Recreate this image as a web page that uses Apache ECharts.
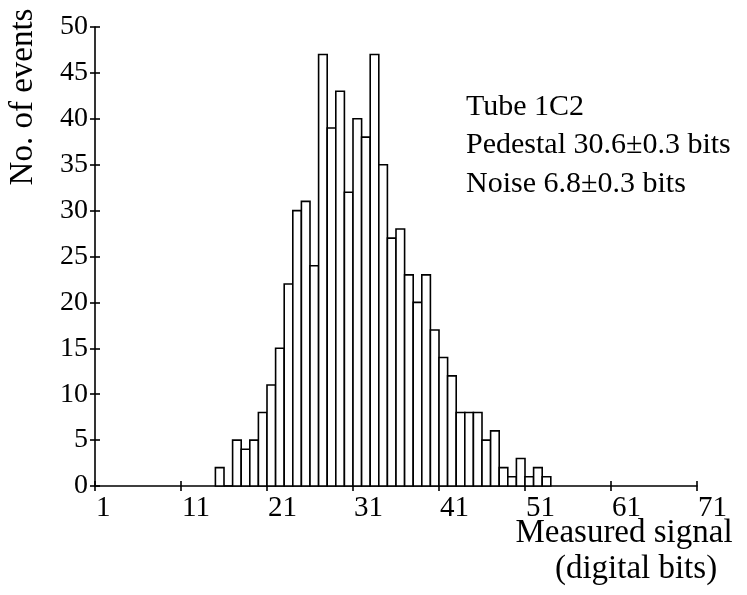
<!DOCTYPE html>
<html><head><meta charset="utf-8">
<script src="https://cdn.jsdelivr.net/npm/echarts@6/dist/echarts.min.js"></script>
<style>html,body{margin:0;padding:0;background:#fff}#c{width:747px;height:595px}</style>
</head><body><div id="c"></div>
<script>
// Histogram bins (lower edge, digital bits) and counts
const binStarts = [15,16,17,18,19,20,21,22,23,24,25,26,27,28,29,30,31,32,33,34,35,36,37,38,39,40,41,42,43,44,45,46,47,48,49,50,51,52,53];
const counts    = [ 2, 0, 5, 4, 5, 8,11,15,22,30,31,24,47,39,43,32,40,38,47,35,27,28,23,20,23,17,14,12, 8, 8, 8, 5, 6, 2, 1, 3, 1, 2, 1];
const binWidth = 1;
const xTicks = [1,11,21,31,41,51,61,71];
const yTicks = [0,5,10,15,20,25,30,35,40,45,50];
const annotations = ['Tube 1C2','Pedestal 30.6\u00b10.3 bits','Noise 6.8\u00b10.3 bits'];
const xTitle = ['Measured signal','(digital bits)'];
const yTitle = 'No. of events';

const FONT = '"Liberation Serif", "Times New Roman", serif';
const data = binStarts.map((b, i) => [b, counts[i]]);
const chart = echarts.init(document.getElementById('c'), null, {renderer: 'canvas'});
const lineStyle = {color: '#000', width: 1.6};
const xBase = {type: 'value', min: xTicks[0], max: xTicks[xTicks.length - 1], position: 'bottom', splitLine: {show: false}};
const yBase = {type: 'value', min: yTicks[0], max: yTicks[yTicks.length - 1], interval: yTicks[1] - yTicks[0], position: 'left', splitLine: {show: false}};
chart.setOption({
  animation: false,
  backgroundColor: '#fff',
  grid: {left: 95, right: 50, top: 27, bottom: 109, containLabel: false},
  xAxis: [
    Object.assign({}, xBase, {
      axisLine: {show: true, onZero: false, lineStyle},
      axisTick: {show: true, customValues: xTicks, length: 5, lineStyle},
      axisLabel: {show: true, customValues: xTicks, align: 'left', margin: 8, color: '#000', fontFamily: FONT, fontSize: 29, padding: [0,0,0,1]}
    }),
    Object.assign({}, xBase, {
      axisLine: {show: false},
      axisTick: {show: true, inside: true, customValues: xTicks, length: 5, lineStyle},
      axisLabel: {show: false}
    })
  ],
  yAxis: [
    Object.assign({}, yBase, {
      axisLine: {show: true, onZero: false, lineStyle},
      axisTick: {show: true, length: 5, lineStyle},
      axisLabel: {show: true, margin: 7, color: '#000', fontFamily: FONT, fontSize: 28}
    }),
    Object.assign({}, yBase, {
      axisLine: {show: false},
      axisTick: {show: true, inside: true, length: 5, lineStyle},
      axisLabel: {show: false}
    })
  ],
  series: [{
    type: 'custom',
    xAxisIndex: 0, yAxisIndex: 0,
    encode: {x: 0, y: 1},
    data: data,
    renderItem: function (params, api) {
      const x0 = api.value(0), c = api.value(1);
      const p0 = api.coord([x0, 0]);
      const p1 = api.coord([x0 + binWidth, c]);
      return {type: 'rect', shape: {x: p0[0], y: p1[1], width: p1[0] - p0[0], height: p0[1] - p1[1]},
        style: {fill: '#fff', stroke: '#000', lineWidth: 1.6}};
    }
  }],
  graphic: [
    {type: 'text', x: 466, y: 107, style: {text: annotations[0], font: '30px ' + FONT, fill: '#000', textAlign: 'left', textVerticalAlign: 'middle'}},
    {type: 'text', x: 466, y: 145, style: {text: annotations[1], font: '30px ' + FONT, fill: '#000', textAlign: 'left', textVerticalAlign: 'middle'}},
    {type: 'text', x: 466, y: 184, style: {text: annotations[2], font: '30px ' + FONT, fill: '#000', textAlign: 'left', textVerticalAlign: 'middle'}},
    {type: 'text', x: 624, y: 533, style: {text: xTitle[0], font: '33px ' + FONT, fill: '#000', textAlign: 'center', textVerticalAlign: 'middle'}},
    {type: 'text', x: 636, y: 569, style: {text: xTitle[1], font: '33px ' + FONT, fill: '#000', textAlign: 'center', textVerticalAlign: 'middle'}},
    {type: 'text', x: 23, y: 97, rotation: Math.PI / 2, style: {text: yTitle, font: '33px ' + FONT, fill: '#000', textAlign: 'center', textVerticalAlign: 'middle'}}
  ]
});
</script>
</body></html>
